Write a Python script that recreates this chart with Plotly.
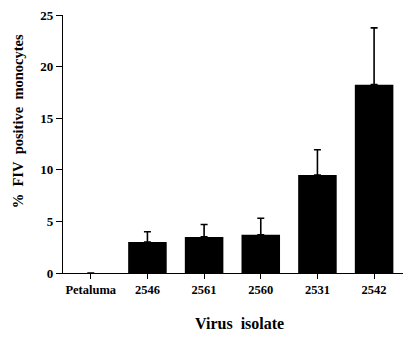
import plotly.graph_objects as go

categories = ["Petaluma", "2546", "2561", "2560", "2531", "2542"]
values = [0, 3.0, 3.5, 3.7, 9.5, 18.25]
errors_up = [None, 1.0, 1.2, 1.6, 2.45, 5.5]
y_ticks = [0, 5, 10, 15, 20, 25]

font_family = "Liberation Serif, Times New Roman, serif"

fig = go.Figure()
fig.add_trace(go.Bar(
    x=list(range(len(categories))),
    y=values,
    width=0.68,
    marker=dict(color="black", line=dict(width=0)),
    error_y=dict(type="data", symmetric=False, array=errors_up,
                 arrayminus=[0] * len(values),
                 color="black", thickness=1.6, width=3.5),
))

fig.update_layout(
    width=405, height=330,
    margin=dict(l=55, r=10, t=7, b=65),
    plot_bgcolor="white", paper_bgcolor="white",
    showlegend=False,
    font=dict(family=font_family, color="black"),
    xaxis=dict(
        tickmode="array",
        tickvals=list(range(len(categories))),
        ticktext=["<b>%s</b>" % c for c in categories],
        range=[-0.49, 5.51],
        showline=True, linecolor="black", linewidth=1.3,
        ticks="outside", ticklen=5, tickwidth=1.2, tickcolor="black",
        tickfont=dict(size=12.5, family=font_family),
        showgrid=False, zeroline=False, automargin=False,
        ticklabeloverflow="allow",
    ),
    yaxis=dict(
        tickmode="array",
        tickvals=y_ticks,
        ticktext=["<b>%d</b>" % t for t in y_ticks],
        range=[0, 25],
        showline=True, linecolor="black", linewidth=1.3,
        ticks="outside", ticklen=6, tickwidth=1.2, tickcolor="black",
        tickfont=dict(size=13, family=font_family),
        showgrid=False, zeroline=False, automargin=False,
        ticklabeloverflow="allow",
    ),
    annotations=[
        dict(text="<b>%\u00a0\u00a0FIV\u00a0\u00a0positive\u00a0\u00a0monocytes</b>",
             xref="paper", yref="paper", x=-0.133, y=0.587, xanchor="center", yanchor="middle",
             textangle=-90, showarrow=False, font=dict(size=14.5, family=font_family)),
        dict(text="<b>Virus\u00a0\u00a0isolate</b>",
             xref="paper", yref="paper", x=0.5185, y=-0.195, xanchor="center", yanchor="middle",
             showarrow=False, font=dict(size=16, family=font_family)),
    ],
)

fig.write_html("out.html")
